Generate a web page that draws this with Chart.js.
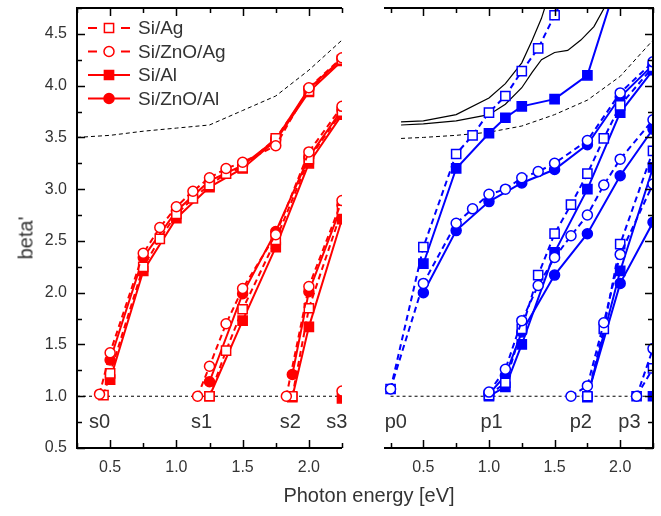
<!DOCTYPE html>
<html>
<head>
<meta charset="utf-8">
<script src="https://cdn.jsdelivr.net/npm/chart.js@4.4.1/dist/chart.umd.min.js"></script>
<style>
  body { margin: 0; background: #fff; }
  #wrap { position: relative; width: 661px; height: 516px; overflow: hidden; font-family: "Liberation Sans", Arial, sans-serif; color: #333; }
  #leftPanel { position: absolute; left: 0; top: 0; }
  #rightPanel { position: absolute; left: 350px; top: 0; }
  #xTitle { position: absolute; left: 369px; top: 495px; transform: translate(-50%, -50%); font-size: 20px; white-space: nowrap; }
  #yTitle { position: absolute; left: 26px; top: 238px; transform: translate(-50%, -50%) rotate(-90deg); font-size: 20px; white-space: nowrap; }
</style>
</head>
<body>
<div id="wrap">
  <canvas id="leftPanel" width="350" height="516"></canvas>
  <canvas id="rightPanel" width="311" height="516"></canvas>
  <div id="xTitle">Photon energy [eV]</div>
  <div id="yTitle">beta'</div>
</div>
<script>
// series names (legend)
const seriesNames = ['Si/Ag', 'Si/ZnO/Ag', 'Si/Al', 'Si/ZnO/Al'];

// axis ticks
const xTicks = [0.5, 1.0, 1.5, 2.0];
const yTicks = [0.5, 1.0, 1.5, 2.0, 2.5, 3.0, 3.5, 4.0, 4.5];

// left panel (red), groups s0..s3, points are [energy, beta']
const redSiAg = [
  [[0.45, 1.01], [0.5, 1.22], [0.75, 2.25], [0.875, 2.52], [1.0, 2.76], [1.125, 2.91], [1.25, 3.04], [1.375, 3.15], [1.5, 3.21], [1.75, 3.49], [2.0, 3.95], [2.25, 4.25]],
  [[1.25, 1.0], [1.375, 1.44], [1.5, 1.84], [1.75, 2.51], [2.0, 3.29], [2.25, 3.75]],
  [[1.875, 1.0], [2.0, 1.85], [2.25, 2.8]]
];
const redSiZnOAg = [
  [[0.42, 1.02], [0.5, 1.42], [0.75, 2.38], [0.875, 2.63], [1.0, 2.83], [1.125, 2.98], [1.25, 3.11], [1.375, 3.2], [1.5, 3.26], [1.75, 3.42], [2.0, 3.98], [2.25, 4.27]],
  [[1.16, 1.0], [1.25, 1.29], [1.375, 1.70], [1.5, 2.04], [1.75, 2.56], [2.0, 3.36], [2.25, 3.80]],
  [[1.83, 1.0], [2.0, 2.06], [2.25, 2.89]],
  [[2.25, 1.05]]
];
const redSiAl = [
  [[0.5, 1.16], [0.75, 2.21], [1.0, 2.72], [1.25, 3.02], [1.5, 3.2], [1.75, 3.47], [2.0, 3.94], [2.25, 4.24]],
  [[1.25, 1.0], [1.5, 1.73], [1.75, 2.44], [2.0, 3.25], [2.25, 3.72]],
  [[1.875, 0.99], [2.0, 1.67], [2.25, 2.71]],
  [[2.25, 0.98]]
];
const redSiZnOAl = [
  [[0.5, 1.35], [0.75, 2.34], [1.0, 2.79], [1.25, 3.08], [1.5, 3.23], [1.75, 3.48], [2.0, 3.97], [2.25, 4.26]],
  [[1.25, 1.14], [1.5, 1.99], [1.75, 2.59], [2.0, 3.31], [2.25, 3.77]],
  [[1.875, 1.21], [2.0, 2.01], [2.25, 2.85]]
];
const leftRefDashed = [[0.25, 3.5], [0.5, 3.52], [0.75, 3.56], [1.0, 3.59], [1.25, 3.62], [1.5, 3.76], [1.75, 3.9], [2.0, 4.15], [2.25, 4.44]];
const leftBase = [[0.25, 1.0], [2.25, 1.0]];
const leftLabels = ['s0', 's1', 's2', 's3'];
const leftLabelX = [0.42, 1.19, 1.86, 2.21];

// right panel (blue), groups p0..p3
const blueSiAg = [
  [[0.25, 1.07], [0.5, 2.44], [0.75, 3.34], [0.875, 3.52], [1.0, 3.74], [1.125, 3.90], [1.25, 4.14], [1.375, 4.36], [1.5, 4.68], [1.625, 5.0]],
  [[1.0, 1.01], [1.125, 1.13], [1.25, 1.65], [1.375, 2.17], [1.5, 2.57], [1.625, 2.85], [1.75, 3.15], [1.875, 3.49], [2.0, 3.81], [2.25, 4.18]],
  [[1.75, 1.0], [1.875, 1.65], [2.0, 2.47], [2.25, 3.37]],
  [[2.125, 1.0], [2.25, 1.27]]
];
const blueSiZnOAg = [
  [[0.25, 1.07], [0.5, 2.09], [0.75, 2.67], [0.875, 2.81], [1.0, 2.95], [1.125, 3.0], [1.25, 3.11], [1.375, 3.17], [1.5, 3.25], [1.75, 3.47], [2.0, 3.93], [2.25, 4.23]],
  [[1.0, 1.04], [1.125, 1.26], [1.25, 1.73], [1.375, 2.07], [1.5, 2.34], [1.625, 2.55], [1.75, 2.75], [1.875, 3.04], [2.0, 3.29], [2.25, 3.67]],
  [[1.625, 1.0], [1.75, 1.10], [1.875, 1.71], [2.0, 2.37], [2.25, 3.05]],
  [[2.125, 1.0], [2.25, 1.46]]
];
const blueSiAl = [
  [[0.5, 2.28], [0.75, 3.20], [1.0, 3.54], [1.125, 3.69], [1.25, 3.80], [1.5, 3.87], [1.75, 4.10], [2.0, 5.1]],
  [[1.0, 1.0], [1.125, 1.09], [1.25, 1.50], [1.5, 2.39], [1.75, 3.0], [2.0, 3.74], [2.25, 4.15]],
  [[1.75, 0.99], [2.0, 2.21], [2.25, 3.21]],
  [[2.25, 1.0]]
];
const blueSiZnOAl = [
  [[0.5, 2.0], [0.75, 2.60], [1.0, 2.88], [1.25, 3.06], [1.5, 3.19], [1.75, 3.43], [2.0, 3.89], [2.25, 4.2]],
  [[1.0, 1.02], [1.125, 1.20], [1.25, 1.62], [1.5, 2.17], [1.75, 2.57], [2.0, 3.13], [2.25, 3.58]],
  [[1.75, 1.0], [2.0, 2.09], [2.25, 2.68]]
];
const rightUpper = [[0.33, 3.65], [0.5, 3.66], [0.75, 3.72], [1.0, 3.88], [1.125, 4.02], [1.25, 4.22], [1.33, 4.44], [1.4, 4.65], [1.45, 4.85]];
const rightLower = [[0.33, 3.62], [0.5, 3.63], [0.75, 3.66], [1.0, 3.72], [1.125, 3.82], [1.25, 3.98], [1.33, 4.13], [1.4, 4.25], [1.5, 4.32], [1.6, 4.34], [1.7, 4.44], [1.8, 4.57], [1.9, 4.8]];
const rightRefDashed = [[0.33, 3.49], [0.5, 3.5], [0.75, 3.52], [1.0, 3.55], [1.25, 3.61], [1.5, 3.72], [1.75, 3.86], [2.0, 4.09], [2.25, 4.44]];
const rightBase = [[0.25, 1.0], [2.25, 1.0]];
const rightLabels = ['p0', 'p1', 'p2', 'p3'];
const rightLabelX = [0.29, 1.02, 1.70, 2.07];
const groupLabelY = 0.75;

const FONT = "'Liberation Sans', Arial, sans-serif";

// same order as seriesNames; z = draw order (lower on top)
const seriesStyle = [
  { dash: [6, 4], pointStyle: 'rect', radius: 6.5, filled: false, z: 2 },
  { dash: [6, 4], pointStyle: 'circle', radius: 5, filled: false, z: 1 },
  { dash: [], pointStyle: 'rect', radius: 6.5, filled: true, z: 4 },
  { dash: [], pointStyle: 'circle', radius: 5, filled: true, z: 3 }
];

const toXY = pts => pts.map(p => ({ x: p[0], y: p[1] }));

function seriesDatasets(allSeries, color) {
  const sets = [];
  allSeries.forEach((groups, si) => {
    const st = seriesStyle[si];
    groups.forEach(g => {
      sets.push({
        data: toXY(g),
        borderColor: color,
        borderWidth: 2,
        borderDash: st.dash,
        pointStyle: st.pointStyle,
        pointRadius: st.radius,
        pointBackgroundColor: st.filled ? color : '#fff',
        pointBorderColor: color,
        pointBorderWidth: 1.5,
        order: st.z
      });
    });
  });
  return sets;
}

function refLine(pts, dash, width) {
  return {
    data: toXY(pts),
    borderColor: '#000',
    borderWidth: width,
    borderDash: dash,
    pointRadius: 0,
    order: 5
  };
}

function drawMarker(ctx, st, x, y, color) {
  ctx.beginPath();
  if (st.pointStyle === 'rect') {
    const h = st.radius * Math.SQRT1_2;
    ctx.rect(x - h, y - h, 2 * h, 2 * h);
  } else {
    ctx.arc(x, y, st.radius, 0, Math.PI * 2);
  }
  ctx.fillStyle = st.filled ? color : '#fff';
  ctx.fill();
  ctx.lineWidth = 1.5;
  ctx.strokeStyle = color;
  ctx.stroke();
}

// frame lines + inward ticks
const framePlugin = {
  id: 'frame',
  afterDatasetsDraw(chart, args, opts) {
    const { ctx, chartArea: a } = chart;
    const x = chart.scales.x, y = chart.scales.y;
    const isMajor = v => Math.abs(v * 2 - Math.round(v * 2)) < 1e-6;
    ctx.save();
    ctx.strokeStyle = '#000';
    ctx.lineWidth = 2;
    ctx.beginPath();
    ctx.moveTo(a.left, a.top); ctx.lineTo(a.right, a.top);
    ctx.moveTo(a.left, a.bottom); ctx.lineTo(a.right, a.bottom);
    if (opts.left) { ctx.moveTo(a.left, a.top - 1); ctx.lineTo(a.left, a.bottom + 1); }
    if (opts.right) { ctx.moveTo(a.right, a.top - 1); ctx.lineTo(a.right, a.bottom + 1); }
    ctx.stroke();

    ctx.lineWidth = 1.5;
    ctx.beginPath();
    for (let v = Math.ceil(x.min / 0.25 - 1e-9) * 0.25; v <= x.max + 1e-9; v += 0.25) {
      const px = Math.round(x.getPixelForValue(v)) + 0.5;
      const len = isMajor(v) ? 8 : 5;
      ctx.moveTo(px, a.bottom); ctx.lineTo(px, a.bottom - len);
      ctx.moveTo(px, a.top); ctx.lineTo(px, a.top + len);
    }
    for (let v = Math.ceil(y.min / 0.25 - 1e-9) * 0.25; v <= y.max + 1e-9; v += 0.25) {
      const py = Math.round(y.getPixelForValue(v)) + 0.5;
      const len = isMajor(v) ? 8 : 5;
      if (opts.left) { ctx.moveTo(a.left, py); ctx.lineTo(a.left + len, py); }
      if (opts.right) { ctx.moveTo(a.right, py); ctx.lineTo(a.right - len, py); }
    }
    ctx.stroke();
    ctx.restore();
  }
};

// s0..s3 / p0..p3 text
const groupLabelPlugin = {
  id: 'groupLabels',
  afterDraw(chart, args, opts) {
    const { ctx } = chart;
    const x = chart.scales.x, y = chart.scales.y;
    ctx.save();
    ctx.fillStyle = '#333';
    ctx.font = '20px ' + FONT;
    ctx.textAlign = 'center';
    ctx.textBaseline = 'middle';
    opts.texts.forEach((t, i) => {
      ctx.fillText(t, x.getPixelForValue(opts.xs[i]), y.getPixelForValue(groupLabelY));
    });
    ctx.restore();
  }
};

const legendPlugin = {
  id: 'seriesLegend',
  afterDraw(chart, args, opts) {
    if (!opts.show) return;
    const { ctx } = chart;
    ctx.save();
    seriesNames.forEach((name, i) => {
      const st = seriesStyle[i];
      const yy = opts.top + i * opts.gap;
      ctx.strokeStyle = opts.color;
      ctx.lineWidth = 2;
      ctx.beginPath();
      if (st.dash.length) {
        ctx.moveTo(opts.x0, yy); ctx.lineTo(opts.x0 + 9, yy);
        ctx.moveTo(opts.x1 - 9, yy); ctx.lineTo(opts.x1, yy);
      } else {
        ctx.moveTo(opts.x0, yy); ctx.lineTo(opts.x1, yy);
      }
      ctx.stroke();
      drawMarker(ctx, st, (opts.x0 + opts.x1) / 2, yy, opts.color);
      ctx.fillStyle = '#333';
      ctx.font = '19px ' + FONT;
      ctx.textBaseline = 'middle';
      ctx.fillText(name, opts.textX, yy + 1);
    });
    ctx.restore();
  }
};

function makePanel(id, datasets, xMin, padding, frame, labels, labelXs, legend, showY) {
  return new Chart(document.getElementById(id).getContext('2d'), {
    type: 'line',
    data: { datasets: datasets },
    options: {
      responsive: false,
      animation: false,
      layout: { padding: padding },
      plugins: {
        legend: { display: false },
        tooltip: { enabled: false },
        frame: frame,
        groupLabels: { texts: labels, xs: labelXs },
        seriesLegend: legend
      },
      scales: {
        x: {
          type: 'linear',
          min: xMin,
          max: 2.25,
          grid: { display: false, drawTicks: false },
          border: { display: false },
          afterBuildTicks: s => { s.ticks = xTicks.map(v => ({ value: v })); },
          afterFit: s => { s.height = 68; s.paddingLeft = 0; s.paddingRight = 0; },
          ticks: {
            autoSkip: false,
            maxRotation: 0,
            padding: 10,
            color: '#333',
            font: { family: FONT, size: 16 },
            callback: v => v.toFixed(1)
          }
        },
        y: {
          type: 'linear',
          display: showY,
          min: 0.5,
          max: 4.75,
          grid: { display: false, drawTicks: false },
          border: { display: false },
          afterBuildTicks: s => { s.ticks = yTicks.map(v => ({ value: v })); },
          afterFit: s => { s.width = showY ? 77 : 0; s.paddingTop = 0; s.paddingBottom = 0; },
          ticks: {
            autoSkip: false,
            padding: 10,
            color: '#333',
            font: { family: FONT, size: 16 },
            callback: v => v.toFixed(1)
          }
        }
      }
    },
    plugins: [framePlugin, groupLabelPlugin, legendPlugin]
  });
}

const leftSets = seriesDatasets([redSiAg, redSiZnOAg, redSiAl, redSiZnOAl], '#ff0000')
  .concat([refLine(leftRefDashed, [4, 3], 1), refLine(leftBase, [3, 3], 1)]);

const rightSets = seriesDatasets([blueSiAg, blueSiZnOAg, blueSiAl, blueSiZnOAl], '#0000ff')
  .concat([
    refLine(rightUpper, [], 1.2),
    refLine(rightLower, [], 1.2),
    refLine(rightRefDashed, [4, 3], 1),
    refLine(rightBase, [3, 3], 1)
  ]);

makePanel('leftPanel', leftSets, 0.25,
  { top: 5, right: 4, left: 0, bottom: 0 },
  { left: true, right: false },
  leftLabels, leftLabelX,
  { show: true, color: '#ff0000', x0: 88, x1: 130, textX: 138, top: 28, gap: 23.5 },
  true);

makePanel('rightPanel', rightSets, 0.2,
  { top: 5, right: 7, left: 34, bottom: 0 },
  { left: false, right: true },
  rightLabels, rightLabelX,
  { show: false },
  false);
</script>
</body>
</html>
